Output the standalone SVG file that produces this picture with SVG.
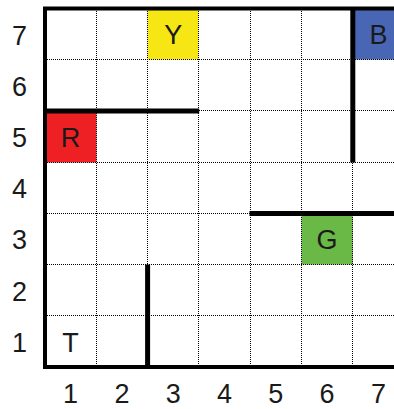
<svg xmlns="http://www.w3.org/2000/svg" width="394" height="409" viewBox="0 0 394 409">
<style>
.grid{stroke:#000;stroke-width:1;stroke-dasharray:1 1;fill:none}
.wall{stroke:#000;stroke-width:5;stroke-linecap:butt;fill:none}
.border{stroke:#000;stroke-width:4;fill:none}
.lbl{font-family:"Liberation Sans",Arial,sans-serif;font-size:27px;fill:#1a1a1a;text-anchor:middle}
</style>
<rect width="394" height="409" fill="#fff"/>
<g id="cells">
<rect id="Y" x="147.5" y="8.5" width="51" height="51" fill="#f5e614"/>
<rect id="B" x="352.8" y="8.5" width="42" height="51" fill="#4866b4"/>
<rect id="R" x="45" y="110.5" width="51.5" height="52" fill="#ee2024"/>
<rect id="G" x="301.5" y="213.5" width="51.3" height="51" fill="#6ab845"/>
</g>
<g id="grid" class="grid">
<path d="M96.5 9V367M147.5 9V367M198.5 9V367M250.5 9V367M301.5 9V367M352.5 9V367"/>
<path d="M45 59.5H394M45 110.5H394M45 162.5H394M45 213.5H394M45 264.5H394M45 315.5H394"/>
</g>
<g id="walls">
<path class="border" d="M394 8.5H45V367H394"/>
<path class="wall" d="M45 110.9H199.2"/>
<path class="wall" d="M352.8 8.5V162.4"/>
<path class="wall" d="M249.5 213.5H394"/>
<path class="wall" d="M147.6 264.5V367"/>
</g>
<g id="letters" class="lbl">
<text x="173.3" y="44">Y</text>
<text x="378.4" y="44">B</text>
<text x="70.6" y="146.5">R</text>
<text x="327.1" y="249">G</text>
<text x="70.6" y="351.5">T</text>
</g>
<g id="rows" class="lbl">
<text x="19.5" y="44.5">7</text>
<text x="19.5" y="95.5">6</text>
<text x="19.5" y="146.5">5</text>
<text x="19.5" y="198">4</text>
<text x="19.5" y="249">3</text>
<text x="19.5" y="300.5">2</text>
<text x="19.5" y="351.5">1</text>
</g>
<g id="cols" class="lbl">
<text x="70.6" y="403">1</text>
<text x="121.9" y="403">2</text>
<text x="173.2" y="403">3</text>
<text x="224.5" y="403">4</text>
<text x="275.8" y="403">5</text>
<text x="327.1" y="403">6</text>
<text x="378.4" y="403">7</text>
</g>
</svg>
